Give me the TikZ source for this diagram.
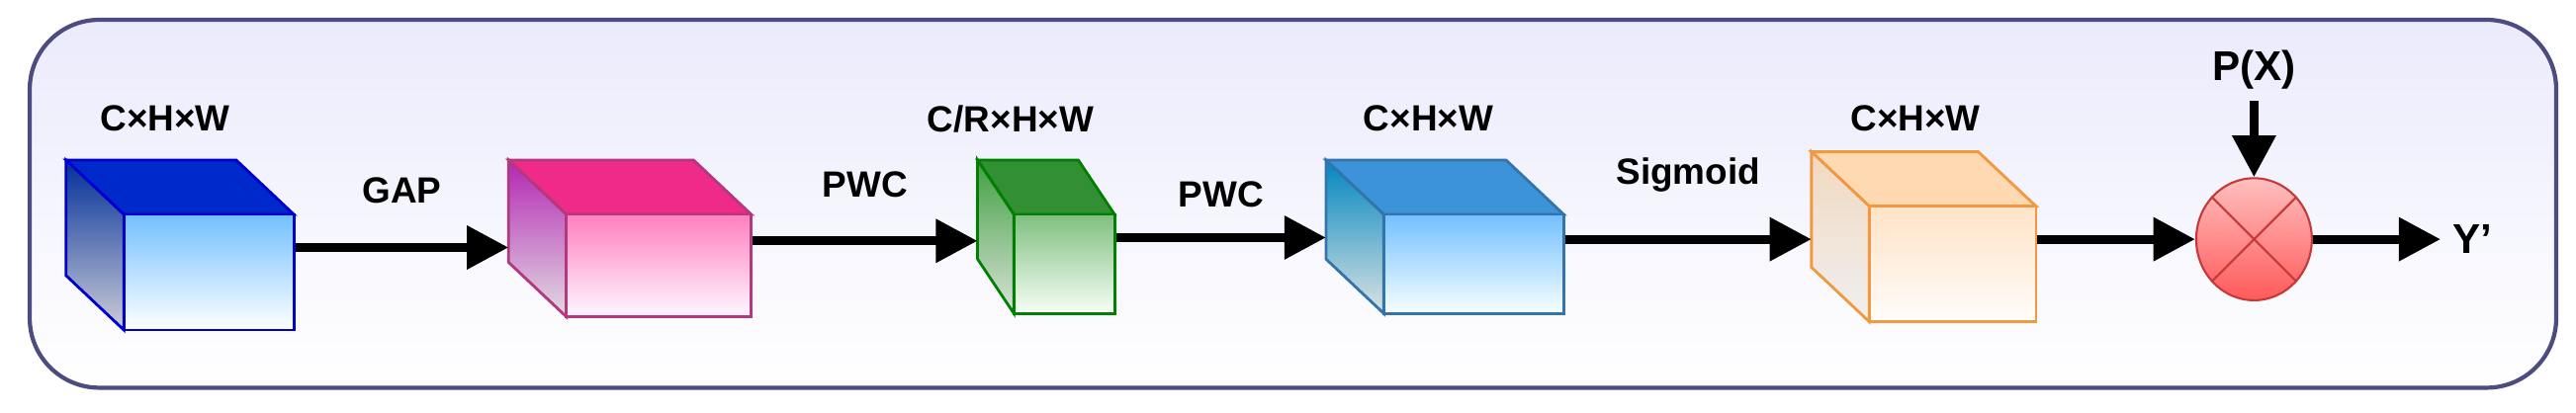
\documentclass[tikz,border=0pt]{standalone}
\usepackage{fontspec}
\setmainfont{Liberation Sans}
\usetikzlibrary{shapes.geometric,arrows.meta}
\begin{document}
\begin{tikzpicture}[x=0.167mm,y=-0.167mm,
  conn/.style={line width=2.6pt,-{Triangle[length=12pt,width=12pt]}},
  lbl/.style={font=\fontsize{10.5}{12}\selectfont\bfseries},
  face/.style={line width=0.8pt}]
\useasboundingbox (0,0) rectangle (1560,250);
\draw[line width=1.2pt,draw=black!50!blue!40!gray,rounded corners=20,top color=black!15!blue!8,bottom color=white]
  (18,12) rectangle (1548,235);
\newcommand\mycube[9]{%
  \path[face,draw=#8,fill=#9] (#2,#3) -- (#4-#6,#3) -- (#4,#3+#7) -- (#2+#6,#3+#7) -- cycle;
  \path[face,draw=#8,cube side/.try] (#2,#3) -- (#2+#6,#3+#7) -- (#2+#6,#5) -- (#2,#5-#7) -- cycle;
  \node[face,draw=#8,inner sep=0,minimum width={(#4-#2-#6)*0.167mm},minimum height={(#5-#3-#7)*0.167mm},cube front/.try] (#1) at ({(#2+#6+#4)/2},{(#3+#7+#5)/2}) {};
  \coordinate (#1w) at (#2,{(#3+#5)/2});
}
\begin{scope}[cube side/.style={top color=blue!70!cyan!60!black,bottom color=blue!10!gray!35},cube front/.style={top color=blue!45!cyan!55,bottom color=white}]
\mycube{c1}{40}{97}{178}{200}{35}{33}{blue!80!black}{blue!80!cyan!80!black}
\end{scope}
\begin{scope}[cube side/.style={top color=magenta!65!black!85,bottom color=magenta!10!gray!25},cube front/.style={top color=magenta!50!red!50,bottom color=magenta!3}]
\mycube{c2}{308}{97}{455}{192}{35}{33}{magenta!70!black}{magenta!80!red!85}
\end{scope}
\begin{scope}[cube side/.style={top color=green!50!black!75,bottom color=green!10!gray!25},cube front/.style={top color=green!50!black!50,bottom color=green!3}]
\mycube{c3}{592}{97}{675}{190}{22}{33}{green!50!black}{green!45!black!80}
\end{scope}
\begin{scope}[cube side/.style={top color=cyan!70!blue!75!black,bottom color=cyan!10!gray!25},cube front/.style={top color=cyan!55!blue!55,bottom color=cyan!3}]
\mycube{c4}{803}{97}{947}{190}{35}{33}{cyan!60!blue!80!black}{cyan!65!blue!80}
\end{scope}
\begin{scope}[cube side/.style={top color=orange!30!brown!30,bottom color=gray!12},cube front/.style={top color=orange!22,bottom color=orange!2}]
\mycube{c5}{1097}{92}{1233}{195}{35}{33}{orange!70!brown!80}{orange!30}
\end{scope}
\node[lbl] (t1) at (100,72) {C×H×W};
\node[lbl] (t3) at (612,72) {C/R×H×W};
\node[lbl] (t4) at (865,72) {C×H×W};
\node[lbl] (t5) at (1160,72) {C×H×W};
\node[ellipse,minimum width={70*0.167mm},minimum height={74*0.167mm},draw=red!55!gray,top color=red!25,bottom color=red!65,line width=0.6pt] (m) at (1365,145) {};
\draw[red!55!gray,line width=0.6pt] (m.45)--(m.225) (m.135)--(m.315);
\node[lbl,font=\fontsize{12}{14}\selectfont\bfseries] (px) at (1365,42) {P(X)};
\node[lbl,anchor=west,font=\fontsize{12}{14}\selectfont\bfseries] (y) at (1478,145) {Y'};
\draw[conn] (c1.east|-0,150) -- node[lbl,above=8pt]{GAP} (c2w|-0,150);
\draw[conn] (c2.east|-0,146) -- node[lbl,above=8pt]{PWC} (c3w|-0,146);
\draw[conn] (c3.east|-0,144) -- node[lbl,above=4pt]{PWC} (c4w|-0,144);
\draw[conn] (c4.east|-0,145) -- node[lbl,above=9pt]{Sigmoid} (c5w|-0,145);
\draw[conn] (c5.east|-m.west) -- (m.west);
\draw[conn] (px.south) -- (m.north);
\draw[conn] (m.east) -- (y.west);
\end{tikzpicture}
\end{document}
